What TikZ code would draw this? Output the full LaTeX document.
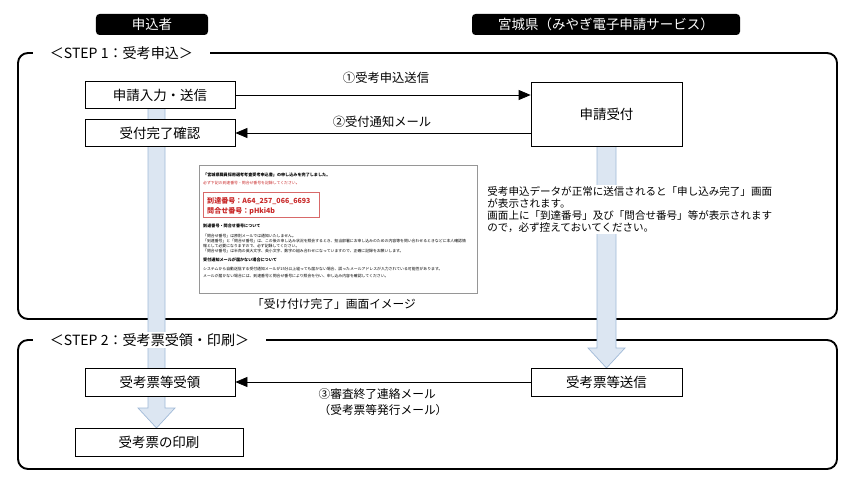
\documentclass[tikz,border=0pt]{standalone}
\usepackage{fontspec}
\setmainfont{Noto Sans CJK JP}
\usepackage{xcolor}
\usetikzlibrary{
    arrows.meta,
    positioning
}
\definecolor{flowblue}{RGB}{220,230,242}
\definecolor{flowedge}{RGB}{160,185,215}
\definecolor{scred}{RGB}{200,40,40}
\definecolor{scgray}{RGB}{150,150,150}
\tikzset{
  box/.style     = {draw, fill=white, minimum width=4.5cm, minimum height=0.8cm,
                    inner sep=0pt, line width=0.6pt, font=\fontsize{11.5}{13}\selectfont},
  head/.style    = {fill=black, text=white, rounded corners=3pt, minimum height=0.63cm,
                    inner sep=0pt, font=\fontsize{11.5}{13}\selectfont},
  frame/.style   = {line width=1.6pt, rounded corners=0.3cm},
  steplbl/.style = {fill=white, anchor=west, inner xsep=0.5cm, inner ysep=1pt,
                    font=\fontsize{12}{14}\selectfont},
  arr/.style     = {-{Triangle[length=0.36cm, width=0.3cm]}, line width=0.6pt},
  bigarr/.style  = {fill=flowblue, draw=flowedge, line width=0.6pt}
}

\begin{document}
\begin{tikzpicture}[x=0.03cm, y=-0.03cm,
    lbl/.style={font=\fontsize{10.5}{12}\selectfont, inner sep=1pt},
    sc/.style={anchor=west, inner sep=0pt, font=\fontsize{3.3}{4}\selectfont},
    scb/.style={sc, font=\fontsize{3.5}{4}\selectfont\bfseries},
    scr/.style={anchor=west, inner sep=0pt, text=scred, font=\fontsize{6.0}{7}\selectfont\bfseries}
  ]
    \useasboundingbox (0,0) rectangle (850,484);
    \node[head, minimum width=3.36cm](hA) at (152,24.5) {申込者};
    \node[head, minimum width=8.04cm](hB) at (606,24.5) {宮城県（みやぎ電子申請サービス）};
    \draw[frame] (18,53) rectangle (837,319);
    \draw[frame] (18,340) rectangle (837,469);
    \draw[bigarr] (148,108) -- (148,408) -- (138,408) -- (156.5,428) -- (175,408)
                  -- (165,408) -- (165,108) -- cycle;
    \draw[bigarr] (597,146) -- (597,348) -- (588,348) -- (606.5,368) -- (625,348)
                  -- (616,348) -- (616,146) -- cycle;
    \node[steplbl](s1) at (33,53)  {＜STEP 1：受考申込＞};
    \node[steplbl](s2) at (33,340) {＜STEP 2：受考票受領・印刷＞};
    % STEP 1
    \node[box](in1) at (160,95)  {申請入力・送信};
    \node[box](in2) at (160,133) {受付完了確認};
    \node[box, minimum width=4.53cm, minimum height=1.92cm](uk) at (606.5,114) {申請受付};
    \draw[arr](in1.east) -- (in1.east -| uk.west);
    \draw[arr](uk.west |- in2.east) -- (in2.east);
    \node[lbl] at (386,78)  {①受考申込送信};
    \node[lbl] at (382,122) {②受付通知メール};
    \node[fill=white, anchor=north west, align=left, inner sep=1pt,
          font=\fontsize{9}{10.2}\selectfont](msg) at (486,185)
      {受考申込データが正常に送信されると「申し込み完了」画面\\
       が表示されます。\\
       画面上に「到達番号」及び「問合せ番号」等が表示されます\\
       ので，必ず控えておいてください。};
    % screen image
    \node[draw=scgray, minimum width=8.34cm, minimum height=3.84cm, inner sep=0pt](scr) at (338,229) {};
    \node[scb] at (203,175) {「宮城県職員採用選考考査受考申込書」の申し込みを完了しました。};
    \node[sc, text=scred] at (203,183) {必ず下記の到達番号・問合せ番号を記録してください。};
    \draw[scred!70, line width=0.6pt] (203,192) rectangle (319,217);
    \node[scr] at (207,201) {到達番号：A64\_257\_066\_6693};
    \node[scr] at (207,211) {問合せ番号：pHki4b};
    \node[scb] at (203,226) {到達番号・問合せ番号について};
    \node[sc] at (203,236) {「問合せ番号」は原則メールでは通知いたしません。};
    \node[sc] at (203,241) {「到達番号」と「問合せ番号」は、この後の申し込み状況を照会するとき、担当部署にお申し込みのための内容等を問い合わせるときなどに本人確認情};
    \node[sc] at (203,246) {報として必要になりますので、必ず記録してください。};
    \node[sc] at (203,251) {「問合せ番号」は半角の英大文字、英小文字、数字の組み合わせになっていますので、正確に記録をお願いします。};
    \node[scb] at (203,260) {受付通知メールが届かない場合について};
    \node[sc] at (203,269) {システムから自動送信する受付通知メールが15分以上経っても届かない場合、誤ったメールアドレスが入力されている可能性があります。};
    \node[sc] at (203,276) {メールが届かない場合には、到達番号と問合せ番号により照会を行い、申し込み内容を確認してください。};
    \node[font=\fontsize{10}{12}\selectfont, inner sep=1pt](cap) at (334,304) {「受け付け完了」画面イメージ};
    % STEP 2
    \node[box, minimum height=0.84cm](ryo) at (160,382) {受考票等受領};
    \node[box, minimum width=5.04cm, minimum height=0.84cm](ins) at (159,442) {受考票の印刷};
    \node[box, minimum width=4.53cm, minimum height=0.84cm](sos) at (606.5,382) {受考票等送信};
    \draw[arr](sos.west) -- (ryo.east);
    \node[font=\fontsize{10}{13.5}\selectfont, align=left, inner sep=1pt] at (383,402)
      {③審査終了連絡メール\\（受考票等発行メール）};
  \end{tikzpicture}
\end{document}
